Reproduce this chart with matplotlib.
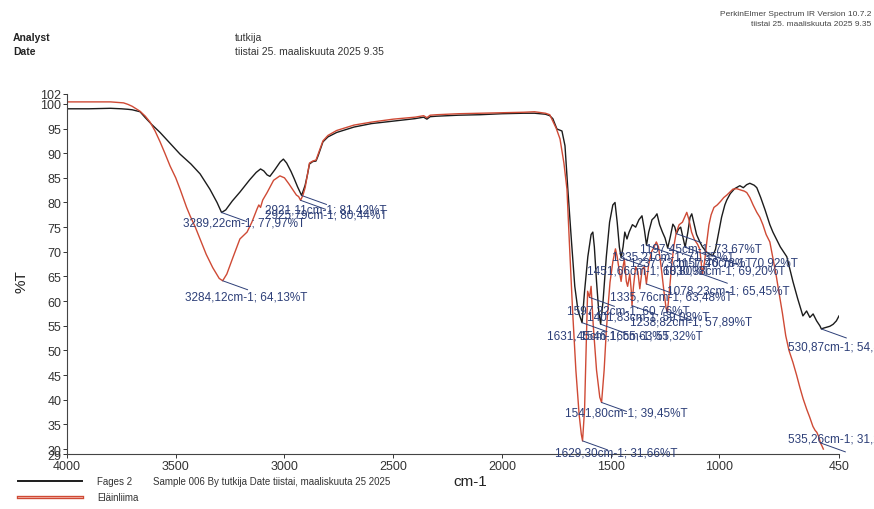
import numpy as np
import matplotlib
matplotlib.use("Agg")
import matplotlib.pyplot as plt
from matplotlib.lines import Line2D

plt.rcParams['font.family'] = ['Liberation Sans', 'DejaVu Sans']

# ---------------- DATA ----------------
# Fages 2 (black)
black_wn = [4000, 3900, 3800, 3750, 3720, 3700, 3664, 3640, 3610, 3572, 3530, 3480, 3430, 3388,
            3343, 3310, 3289.22, 3270, 3240, 3205, 3160, 3130, 3110, 3095, 3080, 3067, 3045, 3020,
            3005, 2990, 2970, 2955, 2940, 2921.11, 2905, 2895, 2885, 2870, 2855, 2845, 2823, 2800,
            2760, 2731, 2680, 2600, 2500, 2400, 2360, 2345, 2330, 2300, 2200, 2100, 2000, 1900,
            1850, 1800, 1780, 1766, 1747, 1724, 1710, 1697, 1680, 1665, 1650, 1631.45, 1620,
            1605, 1590, 1582, 1575, 1565, 1555, 1546.16, 1535, 1520, 1505, 1490, 1480, 1470, 1460,
            1451.66, 1443, 1435, 1425, 1415, 1400, 1385, 1370, 1356, 1345, 1335.21, 1325, 1310,
            1298, 1287, 1275, 1262, 1250, 1237.73, 1226, 1214, 1205, 1197.45, 1188, 1178, 1168,
            1157.46, 1145, 1135, 1127, 1118, 1105, 1090, 1078, 1060, 1045, 1030.38, 1018, 1005,
            990, 975, 966, 950, 930, 906, 890, 875, 860, 840, 828, 810, 790, 768, 754, 720, 690,
            662, 640, 616, 599, 584, 569, 553, 538, 530.87, 523, 508, 492, 477, 462, 450]
black_t = [99.0, 99.0, 99.1, 99.0, 98.9, 98.8, 98.4, 97.2, 95.8, 94.2, 92.2, 89.8, 87.8, 85.8,
           82.7, 80.0, 77.97, 78.5, 80.3, 82.1, 84.6, 86.1, 86.8, 86.4, 85.6, 85.3, 86.6, 88.2,
           88.8, 88.0, 86.3, 84.8, 83.2, 81.42, 83.5, 85.5, 87.8, 88.3, 88.4, 89.5, 92.3, 93.3,
           94.2, 94.6, 95.3, 96.0, 96.5, 97.0, 97.3, 96.9, 97.4, 97.5, 97.7, 97.8, 98.0, 98.1,
           98.1, 97.9, 97.6, 97.0, 94.9, 94.5, 91.5, 82.7, 72.0, 63.0, 58.0, 55.63, 62.0,
           69.0, 73.5, 74.0, 71.0, 64.0, 58.0, 55.32, 60.0, 69.0, 76.0, 79.5, 80.0, 76.0, 71.0,
           68.8, 71.0, 74.0, 72.6, 74.0, 75.5, 75.0, 76.5, 77.3, 74.5, 71.35, 74.0, 76.5,
           77.0, 77.7, 75.5, 74.0, 72.8, 70.78, 73.0, 75.6, 75.0, 73.67, 74.6, 75.0, 73.0,
           70.92, 74.0, 77.0, 77.7, 76.0, 73.5, 72.0, 71.0, 70.0, 69.5, 69.2, 70.5, 73.5,
           77.0, 79.5, 80.5, 81.8, 82.8, 83.4, 83.0, 83.6, 83.9, 83.5, 83.0, 81.0, 78.5, 75.5,
           74.0, 71.0, 69.0, 64.0, 60.5, 57.0, 58.0, 56.7, 57.4, 56.0, 55.0, 54.35, 54.5,
           54.7, 54.9, 55.3, 56.0, 57.0]

# Eläinliima (red)
red_wn = [4000, 3900, 3800, 3740, 3720, 3700, 3664, 3640, 3618, 3595, 3572, 3550, 3526, 3500,
          3480, 3450, 3434, 3410, 3388, 3360, 3330, 3300, 3284.12, 3265, 3240, 3205, 3172, 3150,
          3126, 3118, 3110, 3100, 3080, 3050, 3021, 3000, 2980, 2960, 2945, 2935, 2925.79, 2915,
          2905, 2895, 2885, 2870, 2855, 2845, 2823, 2800, 2760, 2731, 2680, 2600, 2500, 2400,
          2360, 2345, 2330, 2300, 2200, 2100, 2000, 1900, 1850, 1800, 1780, 1766, 1750, 1733,
          1715, 1701, 1690, 1675, 1660, 1645, 1635, 1629.30, 1620, 1612, 1606, 1597.22, 1590,
          1580, 1565, 1550, 1541.80, 1530, 1520, 1510, 1503, 1490, 1478, 1470, 1460, 1452, 1445,
          1437, 1428, 1422, 1412, 1405, 1401.83, 1395, 1385, 1375, 1366, 1355, 1345, 1335.76,
          1325, 1312, 1300, 1290, 1280, 1268, 1255, 1245, 1238.82, 1230, 1220, 1210, 1198, 1185,
          1170, 1160, 1150, 1140, 1128, 1115, 1100, 1090, 1078.23, 1068, 1058, 1048, 1038, 1025,
          1010, 995, 980, 966, 950, 938, 920, 900, 885, 874, 860, 845, 828, 814, 800, 785, 768,
          755, 740, 725, 710, 695, 680, 662, 645, 630, 615, 598, 585, 570, 560, 552, 544,
          535.26, 528, 522]
red_t = [100.4, 100.4, 100.4, 100.2, 99.9, 99.5, 98.5, 97.5, 96.3, 94.5, 92.3, 90.0, 87.4, 85.0,
         82.7, 79.0, 77.3, 75.0, 72.6, 69.5, 66.8, 64.6, 64.13, 65.5, 68.5, 72.6, 74.0, 76.0,
         78.7, 79.5, 79.0, 80.5, 82.0, 84.5, 85.4, 85.0, 83.8, 82.5, 81.5, 81.2, 80.44, 81.5,
         83.0, 85.5, 88.0, 88.4, 88.6, 89.8, 92.5, 93.6, 94.6, 95.0, 95.7, 96.3, 96.9, 97.3,
         97.6, 97.2, 97.7, 97.8, 98.0, 98.1, 98.2, 98.3, 98.4, 98.1, 97.8, 96.5, 95.0, 92.9,
         88.0, 82.7, 72.0, 58.0, 46.0, 37.0, 33.0, 31.66, 38.0, 52.0, 62.0, 60.76, 63.0,
         55.0, 46.0, 40.5, 39.45, 46.0, 54.0, 60.0, 63.8, 68.0, 70.6, 69.0, 66.0, 64.0, 66.5,
         68.5, 64.0, 63.0, 65.5, 62.0, 59.08, 63.0, 67.0, 66.0, 62.5, 66.5, 67.0, 63.48,
         67.5, 70.0, 71.0, 72.0, 71.0, 67.0, 62.0, 58.5, 57.89, 62.0, 67.0, 71.0, 74.0, 75.5,
         76.0, 77.0, 78.0, 76.5, 74.0, 72.5, 71.5, 70.5, 65.45, 68.0, 72.0, 75.5, 77.5, 79.0,
         79.5, 80.2, 81.0, 81.5, 82.2, 82.7, 82.8, 82.5, 82.3, 82.0, 81.0, 79.5, 78.0, 77.0,
         75.5, 73.5, 72.0, 69.0, 65.5, 61.5, 57.5, 53.0, 50.0, 47.6, 45.0, 42.5, 40.2, 38.0,
         36.5, 34.6, 33.8, 33.4, 32.6, 31.25, 30.6, 30.0]

# peak labels: wavenumber, %T
peak_wn = [3289.22, 3284.12, 2921.11, 2925.79, 1197.45, 1335.21, 1237.73, 1157.46, 1451.66,
           1030.38, 1078.23, 1335.76, 1597.22, 1401.83, 1238.82, 1631.45, 1546.16, 530.87,
           1541.80, 1629.30, 535.26]
peak_t = [77.97, 64.13, 81.42, 80.44, 73.67, 71.35, 70.78, 70.92, 68.80,
          69.20, 65.45, 63.48, 60.76, 59.08, 57.89, 55.63, 55.32, 54.35,
          39.45, 31.66, 31.25]

x_ticks = [4000, 3500, 3000, 2500, 2000, 1500, 1000, 450]
y_ticks = [29, 30, 35, 40, 45, 50, 55, 60, 65, 70, 75, 80, 85, 90, 95, 100, 102]

# ---------------- LAYOUT ----------------
W, H = 874, 510
# label text positions (left, middle) in figure pixels from top-left
label_px = [(183, 224), (185, 297), (265, 211), (265, 216), (640, 250), (612, 257), (630, 263),
            (676, 263), (587, 271), (663, 271), (667, 292), (610, 298), (567, 311), (587, 317),
            (630, 323), (547, 337), (580, 337), (788, 348), (565, 414), (555, 454), (788, 440)]

LBL = "#2d3f78"
BLACK = "#1c1c1c"
RED = "#cf4a35"


def fx(px):
    return px / W


def fy(py):
    return 1 - py / H


def fmt(v):
    return f"{v:.2f}".replace(".", ",")


fig = plt.figure(figsize=(W / 100, H / 100), dpi=100)
ax = fig.add_axes([fx(67), fy(455), (839 - 67) / W, (455 - 95) / H])

ax.plot(black_wn, black_t, color=BLACK, lw=1.0)
ax.plot(red_wn, red_t, color=RED, lw=1.0)

ax.set_xlim(4000, 450)
ax.set_ylim(29, 102)
ax.set_xticks(x_ticks)
ax.set_yticks(y_ticks)
ax.tick_params(axis="both", labelsize=9, length=3, width=0.7, colors="#333333", pad=1)
for s in ["top", "right"]:
    ax.spines[s].set_visible(False)
for s in ["left", "bottom"]:
    ax.spines[s].set_color("#444444")
    ax.spines[s].set_linewidth(0.8)

# peak labels with leader lines
for wn, t, (px, py) in zip(peak_wn, peak_t, label_px):
    ax.annotate("", xy=(wn, t), xytext=(25, -9), textcoords="offset pixels",
                arrowprops=dict(arrowstyle="-", lw=0.7, color=LBL, shrinkA=0, shrinkB=0))
    fig.text(fx(px), fy(py), f"{fmt(wn)}cm-1; {fmt(t)}%T", fontsize=8.5, color=LBL,
             ha="left", va="center")

# axis titles
fig.text(fx(470), fy(482), "cm-1", fontsize=11, ha="center", va="center", color="#222222")
fig.text(fx(22), fy(282), "%T", fontsize=11, ha="center", va="center", rotation=90,
         color="#222222")

# header
fig.text(fx(13), fy(38), "Analyst", fontsize=7.5, weight="bold", va="center", color="#222222")
fig.text(fx(13), fy(52), "Date", fontsize=7.5, weight="bold", va="center", color="#222222")
fig.text(fx(235), fy(38), "tutkija", fontsize=7.5, va="center", color="#333333")
fig.text(fx(235), fy(52), "tiistai 25. maaliskuuta 2025 9.35", fontsize=7.5, va="center",
         color="#333333")
fig.text(fx(871), fy(15), "PerkinElmer Spectrum IR Version 10.7.2", fontsize=6, ha="right",
         va="center", color="#444444")
fig.text(fx(871), fy(24), "tiistai 25. maaliskuuta 2025 9.35", fontsize=6, ha="right",
         va="center", color="#444444")

# legend
fig.add_artist(Line2D([fx(18), fx(82)], [fy(482), fy(482)], color=BLACK, lw=1.4))
fig.add_artist(Line2D([fx(18), fx(82)], [fy(498), fy(498)], color=RED, lw=2.4))
fig.add_artist(Line2D([fx(18), fx(82)], [fy(498), fy(498)], color="#f2b3a8", lw=0.6))
fig.text(fx(97), fy(482), "Fages 2", fontsize=7, va="center", color="#333333")
fig.text(fx(153), fy(482), "Sample 006 By tutkija Date tiistai, maaliskuuta 25 2025",
         fontsize=7, va="center", color="#333333")
fig.text(fx(97), fy(498), "Eläinliima", fontsize=7, va="center", color="#333333")

fig.savefig("out.png", dpi=100)
